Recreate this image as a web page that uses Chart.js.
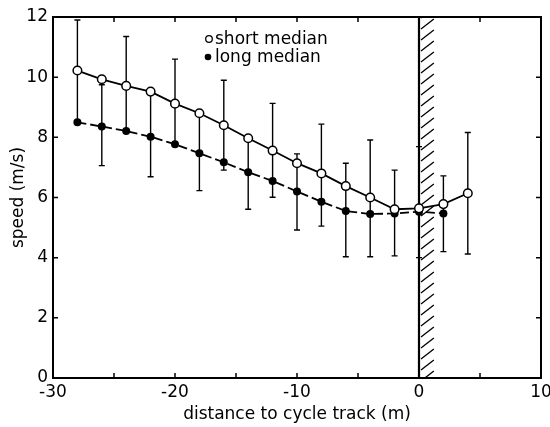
<!DOCTYPE html>
<html>
<head>
<meta charset="utf-8">
<script src="https://cdn.jsdelivr.net/npm/chart.js@4"></script>
<style>
  body { margin: 0; background: #fff; }
  canvas { display: block; }
</style>
</head>
<body>
<canvas id="c" width="550" height="427"></canvas>
<script>
// distances (m) and median speeds (m/s)
const shortX = [-28, -26, -24, -22, -20, -18, -16, -14, -12, -10, -8, -6, -4, -2, 0, 2, 4];
const shortMedian = [10.22, 9.93, 9.71, 9.52, 9.12, 8.80, 8.40, 7.97, 7.56, 7.14, 6.80, 6.38, 6.00, 5.61, 5.64, 5.78, 6.14];
const longX = [-28, -26, -24, -22, -20, -18, -16, -14, -12, -10, -8, -6, -4, -2, 0, 2];
const longMedian = [8.50, 8.36, 8.21, 8.02, 7.77, 7.47, 7.17, 6.84, 6.55, 6.20, 5.86, 5.55, 5.45, 5.47, 5.53, 5.47];

// spread bars
const shortBarX = [-28, -24, -20, -16, -12, -8, -4, 0, 4];
const shortUpper = [11.9, 11.35, 10.6, 9.9, 9.13, 8.44, 7.91, 7.69, 8.16];
const shortLower = [8.5, 8.2, 7.77, 6.91, 6.01, 5.05, 4.03, 4.0, 4.12];
const longBarX = [-26, -22, -18, -14, -10, -6, -2, 2];
const longUpper = [9.75, 9.5, 8.8, 7.97, 7.45, 7.14, 6.91, 6.72];
const longLower = [7.06, 6.69, 6.23, 5.61, 4.92, 4.03, 4.06, 4.2];

// cycle track strip
const trackFrom = 0;
const trackTo = 1.3;

const xTicks = [-30, -20, -10, 0, 10];
const FONT = 'DejaVu Sans';

const pts = (xs, ys) => xs.map((x, i) => ({ x: x, y: ys[i] }));

const decor = {
    id: 'decor',
    beforeDatasetsDraw(chart) {
        const ctx = chart.ctx;
        const xs = chart.scales.x, ys = chart.scales.y;
        const a = chart.chartArea;

        // hatched strip
        const x0 = xs.getPixelForValue(trackFrom), x1 = xs.getPixelForValue(trackTo);
        ctx.save();
        ctx.beginPath();
        ctx.rect(x0, a.top, x1 - x0, a.bottom - a.top);
        ctx.clip();
        ctx.strokeStyle = '#000';
        ctx.lineWidth = 1.3;
        for (let y = a.top - 20; y < a.bottom + 20; y += 11) {
            ctx.beginPath();
            ctx.moveTo(x0 + 2, y + 10);
            ctx.lineTo(x1 - 1, y);
            ctx.stroke();
        }
        ctx.restore();
        ctx.save();
        ctx.strokeStyle = '#000';
        ctx.lineWidth = 2.2;
        ctx.beginPath();
        ctx.moveTo(x0, a.top);
        ctx.lineTo(x0, a.bottom);
        ctx.stroke();

        // spread bars
        ctx.lineWidth = 1.4;
        const bars = (bx, up, lo) => {
            bx.forEach((x, i) => {
                const px = xs.getPixelForValue(x);
                const pu = ys.getPixelForValue(up[i]), pl = ys.getPixelForValue(lo[i]);
                ctx.beginPath();
                ctx.moveTo(px, pu); ctx.lineTo(px, pl);
                ctx.moveTo(px - 3, pu); ctx.lineTo(px + 3, pu);
                ctx.moveTo(px - 3, pl); ctx.lineTo(px + 3, pl);
                ctx.stroke();
            });
        };
        bars(shortBarX, shortUpper, shortLower);
        bars(longBarX, longUpper, longLower);
        ctx.restore();
    },
    afterDraw(chart) {
        const ctx = chart.ctx;
        const xs = chart.scales.x, ys = chart.scales.y;
        const a = chart.chartArea;
        ctx.save();
        ctx.strokeStyle = '#000';
        ctx.lineWidth = 2;
        ctx.strokeRect(a.left, a.top, a.right - a.left, a.bottom - a.top);

        // inward ticks on all four sides
        ctx.lineWidth = 1.5;
        ctx.beginPath();
        for (let v = -25; v < 10; v += 5) {
            const px = xs.getPixelForValue(v);
            ctx.moveTo(px, a.bottom); ctx.lineTo(px, a.bottom - 5);
            ctx.moveTo(px, a.top); ctx.lineTo(px, a.top + 5);
        }
        for (let v = 2; v < 12; v += 2) {
            const py = ys.getPixelForValue(v);
            ctx.moveTo(a.left, py); ctx.lineTo(a.left + 5, py);
            ctx.moveTo(a.right, py); ctx.lineTo(a.right - 5, py);
        }
        ctx.stroke();

        // legend
        ctx.fillStyle = '#000';
        ctx.font = '17px ' + FONT;
        ctx.textBaseline = 'alphabetic';
        ctx.fillText('short median', 215, 44);
        ctx.fillText('long median', 215, 62);
        ctx.lineWidth = 1.3;
        ctx.beginPath();
        ctx.arc(209, 39, 3.3, 0, Math.PI * 2);
        ctx.stroke();
        ctx.beginPath();
        ctx.arc(208, 57, 3.3, 0, Math.PI * 2);
        ctx.fill();
        ctx.restore();
    }
};

new Chart(document.getElementById('c'), {
    type: 'line',
    data: {
        datasets: [{
            label: 'short median',
            data: pts(shortX, shortMedian),
            borderColor: '#000',
            borderWidth: 1.8,
            pointRadius: 4.3,
            pointBackgroundColor: '#fff',
            pointBorderColor: '#000',
            pointBorderWidth: 1.5,
            tension: 0
        }, {
            label: 'long median',
            data: pts(longX, longMedian),
            borderColor: '#000',
            borderWidth: 1.8,
            borderDash: [9, 4],
            pointRadius: 4,
            pointBackgroundColor: '#000',
            pointBorderColor: '#000',
            pointBorderWidth: 0,
            tension: 0
        }]
    },
    options: {
        responsive: false,
        animation: false,
        layout: { padding: { top: 17, right: 9, left: 0, bottom: 0 } },
        plugins: {
            legend: { display: false },
            tooltip: { enabled: false }
        },
        scales: {
            x: {
                type: 'linear',
                min: -30,
                max: 10,
                afterFit: s => { s.height = 49; s.paddingLeft = 0; s.paddingRight = 0; },
                afterBuildTicks: s => { s.ticks = xTicks.map(v => ({ value: v })); },
                grid: { display: false, drawTicks: false },
                border: { display: false },
                ticks: {
                    padding: 4,
                    color: '#000',
                    font: { family: FONT, size: 17 },
                    maxRotation: 0,
                    autoSkip: false
                },
                title: {
                    display: true,
                    text: 'distance to cycle track (m)',
                    color: '#000',
                    font: { family: FONT, size: 17 },
                    padding: { top: 0, bottom: 2 }
                }
            },
            y: {
                min: 0,
                max: 12,
                afterFit: s => { s.width = 53; s.paddingTop = 0; s.paddingBottom = 0; },
                grid: { display: false, drawTicks: false },
                border: { display: false },
                ticks: {
                    stepSize: 2,
                    padding: 5,
                    color: '#000',
                    font: { family: FONT, size: 17 }
                },
                title: {
                    display: true,
                    text: 'speed (m/s)',
                    color: '#000',
                    font: { family: FONT, size: 17 },
                    padding: { top: 8, bottom: 0 }
                }
            }
        }
    },
    plugins: [decor]
});
</script>
</body>
</html>
